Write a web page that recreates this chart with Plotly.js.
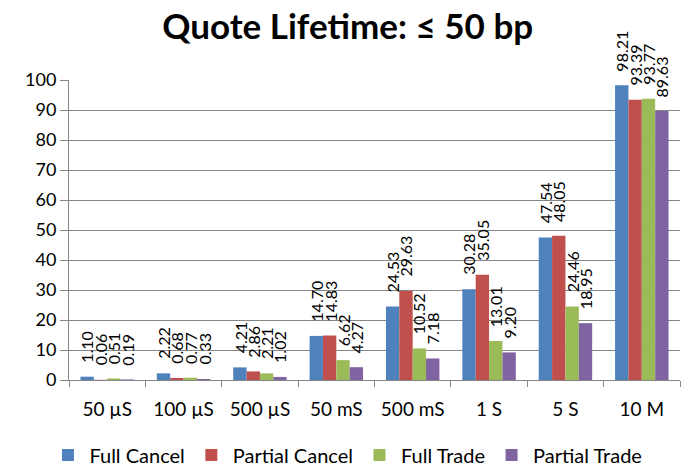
<!DOCTYPE html>
<html>
<head>
<meta charset="utf-8">
<script src="https://cdn.plot.ly/plotly-3.0.1.min.js"></script>
<style>
  html, body { margin: 0; padding: 0; background: #fff; }
  #chart { width: 683px; height: 468px; }
</style>
</head>
<body>
<div id="chart"></div>
<script>
// Quote lifetime buckets
const categories = ["50 µS", "100 µS", "500 µS", "50 mS", "500 mS", "1 S", "5 S", "10 M"];

// Percent of quotes per outcome, by lifetime bucket
const fullCancel    = [1.10, 2.22, 4.21, 14.70, 24.53, 30.28, 47.54, 98.21];
const partialCancel = [0.06, 0.68, 2.86, 14.83, 29.63, 35.05, 48.05, 93.39];
const fullTrade     = [0.51, 0.77, 2.21, 6.62, 10.52, 13.01, 24.46, 93.77];
const partialTrade  = [0.19, 0.33, 1.02, 4.27, 7.18, 9.20, 18.95, 89.63];

const seriesNames = ["Full Cancel", "Partial Cancel", "Full Trade", "Partial Trade"];
const seriesValues = [fullCancel, partialCancel, fullTrade, partialTrade];
const seriesColors = ["#4F81BD", "#C0504D", "#9BBB59", "#8064A2"];

const FONT = "Lato, 'Open Sans', 'Liberation Sans', sans-serif";
const BARGAP = 0.3;

const traces = seriesValues.map((vals, i) => ({
  type: "bar",
  name: seriesNames[i],
  x: categories,
  y: vals,
  marker: { color: seriesColors[i], line: { width: 0 } },
  hoverinfo: "x+y+name"
}));

// Rotated value labels sitting above each bar of the group
const barW = (1 - BARGAP) / seriesValues.length;
const annotations = [];
seriesValues.forEach((vals, i) => {
  const off = (i - (seriesValues.length - 1) / 2) * barW;
  vals.forEach((v, j) => {
    annotations.push({
      xref: "x", yref: "y",
      x: j + off, y: v,
      text: v.toFixed(2),
      textangle: -90,
      showarrow: false,
      xanchor: "center", yanchor: "bottom",
      yshift: 12,
      font: { family: FONT, size: 16, color: "#000" }
    });
  });
});

const layout = {
  width: 683,
  height: 468,
  margin: { l: 69, r: 3, t: 80, b: 88 },
  paper_bgcolor: "#fff",
  plot_bgcolor: "#fff",
  barmode: "group",
  bargap: BARGAP,
  bargroupgap: 0,
  font: { family: FONT, color: "#000" },
  title: {
    text: "<b>Quote Lifetime: ≤ 50 bp</b>",
    font: { family: FONT, size: 35, color: "#000" },
    x: 0.509, xanchor: "center",
    yref: "container", y: 0.943, yanchor: "middle"
  },
  xaxis: {
    type: "category",
    showline: true, linecolor: "#868686", linewidth: 1,
    ticks: "outside", tickson: "boundaries", ticklen: 6, tickcolor: "#868686",
    ticklabelstandoff: 12,
    tickfont: { family: FONT, size: 19, color: "#000" },
    showgrid: false, zeroline: false,
    fixedrange: true
  },
  yaxis: {
    range: [0, 100],
    dtick: 10,
    showline: true, linecolor: "#868686", linewidth: 1,
    ticks: "outside", ticklen: 8, tickcolor: "#868686",
    showgrid: true, gridcolor: "#868686", gridwidth: 1,
    zeroline: false,
    tickfont: { family: FONT, size: 18, color: "#000" },
    fixedrange: true
  },
  showlegend: true,
  legend: {
    orientation: "h",
    xref: "container", x: 0.068, xanchor: "left",
    yref: "container", y: 0.028, yanchor: "middle",
    font: { family: FONT, size: 20, color: "#000" },
    itemwidth: 33,
    traceorder: "normal"
  },
  annotations: annotations
};

Plotly.newPlot("chart", traces, layout, { displayModeBar: false, staticPlot: true });
</script>
</body>
</html>
